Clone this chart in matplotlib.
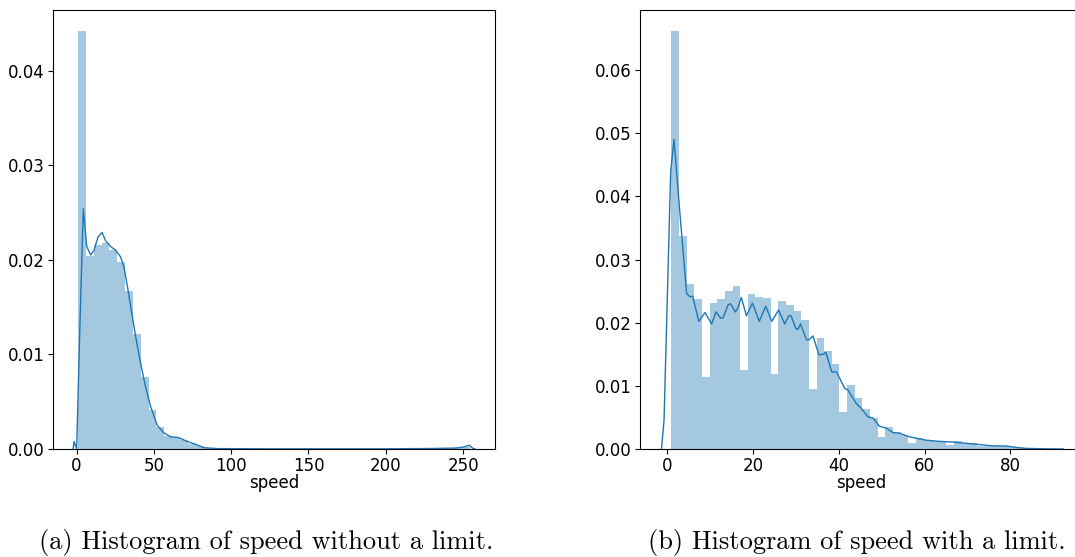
import numpy as np
import matplotlib.pyplot as plt

# Histogram densities (50 bins each) and kde curves of the speed column
bins_a_start, bins_a_width = 1.0, 5.07
dens_a = [0.0442, 0.0204, 0.0216, 0.0218, 0.0210, 0.0198, 0.0167, 0.0122, 0.0076, 0.0041,
          0.0023, 0.0014, 0.0013, 0.0009, 0.0005, 0.00035, 0.0001, 0.00004, 0.00003, 0.00002,
          0.00002, 0.00002, 0.00002, 0.00002, 0.00002, 0.00002, 0.00002, 0.00002, 0.00002, 0.00002,
          0.00002, 0.00002, 0.00002, 0.00002, 0.00002, 0.00002, 0.00002, 0.00002, 0.00002, 0.00002,
          0.00002, 0.00002, 0.00002, 0.00002, 0.00003, 0.00003, 0.00004, 0.00006, 0.0001, 0.0002]
kde_a_x = [-2.2, -1.6, 0.1, 2.3, 4.4, 6.6, 9.2, 11.3, 13.9, 16.5, 18.8, 22.1, 25.3, 28.5, 30.6,
           32.8, 35.4, 38.2, 41.4, 44.6, 47.9, 52.2, 56.5, 60.8, 66.1, 71.5, 76.9, 82.3, 90.9,
           120, 160, 200, 230, 245, 250, 254, 256, 257.6]
kde_a_y = [0.0, 0.0008, 0.0, 0.0136, 0.0254, 0.0214, 0.0205, 0.0210, 0.0224, 0.0229, 0.0220,
           0.0214, 0.0210, 0.0203, 0.0193, 0.0173, 0.0147, 0.0119, 0.0091, 0.0066, 0.0045, 0.0025,
           0.0017, 0.0013, 0.0012, 0.0008, 0.0005, 0.00014, 0.00004, 0.00002, 0.00002, 0.00002,
           0.00005, 0.0001, 0.0002, 0.0004, 0.0001, 0.0]

bins_b_start, bins_b_width = 1.02, 1.78
dens_b = [0.0662, 0.0337, 0.0261, 0.0237, 0.01145, 0.0231, 0.0237, 0.0250, 0.0258, 0.0125,
          0.0245, 0.0241, 0.0239, 0.0119, 0.0234, 0.0228, 0.0218, 0.0204, 0.0095, 0.0176,
          0.0155, 0.0135, 0.0059, 0.0101, 0.0081, 0.0063, 0.0049, 0.0019, 0.0035, 0.0027,
          0.0022, 0.00095, 0.0017, 0.00148, 0.00127, 0.0012, 0.0007, 0.0012, 0.00095, 0.0009,
          0.0004, 0.0005, 0.0005, 0.00045, 0.00025, 0.00015, 0.0001, 0.00006, 0.00003, 0.00002]
kde_b_x = [-1.3, -0.7, 0.85, 1.63, 2.87, 4.57, 5.35, 5.97, 7.4, 8.84, 10.4, 11.4, 12.5, 13.1,
           14.2, 14.8, 15.9, 16.5, 17.3, 18.5, 19.9, 21.5, 23.0, 24.4, 26.0, 27.4, 28.4, 28.9,
           30.0, 30.5, 31.1, 32.5, 33.1, 34.0, 35.4, 36.4, 37.0, 38.4, 39.5, 41.4, 42.2, 44.1,
           45.3, 46.8, 48.0, 49.5, 51.1, 52.6, 54.2, 56.1, 58.1, 60.4, 63.5, 66.6, 69.7, 72.8,
           75.9, 79.0, 81.3, 83.6, 88.3, 92.3]
kde_b_y = [0.0, 0.0045, 0.0439, 0.0490, 0.0384, 0.0246, 0.0241, 0.0242, 0.0202, 0.0216,
           0.0198, 0.0217, 0.0207, 0.0208, 0.0228, 0.0230, 0.0217, 0.0223, 0.0240, 0.0211,
           0.0231, 0.0202, 0.0226, 0.0202, 0.0220, 0.0198, 0.0211, 0.0211, 0.0191, 0.0189,
           0.0198, 0.0173, 0.0173, 0.0179, 0.0149, 0.0150, 0.0153, 0.0122, 0.0122, 0.0096,
           0.0093, 0.0072, 0.0064, 0.0051, 0.0049, 0.0036, 0.0033, 0.0026, 0.0025, 0.0020,
           0.0017, 0.0014, 0.0012, 0.0011, 0.0009, 0.0007, 0.0005, 0.00047, 0.00026, 0.0001,
           0.00003, 0.0]

captions = ['(a) Histogram of speed without a limit.', '(b) Histogram of speed with a limit.']

plt.rcParams['font.size'] = 12
fig = plt.figure(figsize=(10.75, 5.57), dpi=100)

W, H = 1075, 557
ax_a = fig.add_axes([53 / W, (H - 449) / H, 442 / W, 439 / H])
ax_b = fig.add_axes([640 / W, (H - 449) / H, 442 / W, 439 / H])

blue = '#1f77b4'


def draw_hist(ax, start, width, dens, kx, ky):
    lefts = start + width * np.arange(len(dens))
    ax.bar(lefts, dens, width=width, align='edge', color=blue, alpha=0.4, linewidth=0)
    ax.plot(kx, ky, color=blue, linewidth=1.0)
    ax.set_xlabel('speed', labelpad=-1)
    ax.tick_params(pad=2.5)


draw_hist(ax_a, bins_a_start, bins_a_width, dens_a, kde_a_x, kde_a_y)
ax_a.set_xlim(-15.2, 270.6)
ax_a.set_ylim(0, 0.0464)
ax_a.set_xticks([0, 50, 100, 150, 200, 250])
ax_a.set_yticks([0.00, 0.01, 0.02, 0.03, 0.04])

draw_hist(ax_b, bins_b_start, bins_b_width, dens_b, kde_b_x, kde_b_y)
ax_b.set_xlim(-6.3, 96.7)
ax_b.set_ylim(0, 0.0695)
ax_b.set_xticks([0, 20, 40, 60, 80])
ax_b.set_yticks([0.00, 0.01, 0.02, 0.03, 0.04, 0.05, 0.06])

for ax in (ax_a, ax_b):
    ax.yaxis.set_major_formatter(plt.FormatStrFormatter('%.2f'))

# Sub-figure captions in a Computer Modern face
fig.text(266 / W, (H - 542) / H, captions[0], family='cmr10', fontsize=19,
         ha='center', va='center')
fig.text(857 / W, (H - 542) / H, captions[1], family='cmr10', fontsize=19,
         ha='center', va='center')

plt.savefig('out.png', dpi=100)
